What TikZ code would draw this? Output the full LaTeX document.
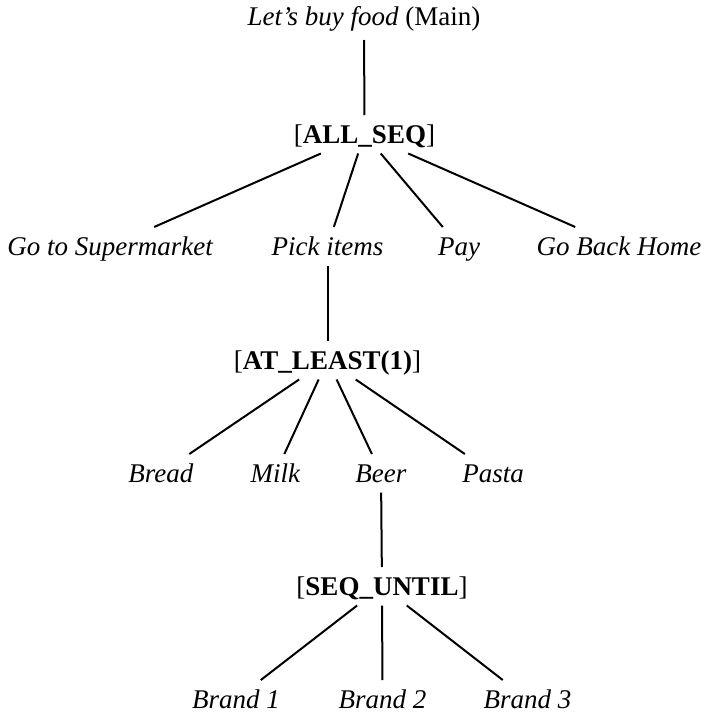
\documentclass[tikz,border=0pt]{standalone}
\usepackage{fontspec}
\setmainfont{Liberation Serif}
\begin{document}
\begin{tikzpicture}[x=1pt,y=-1pt,
  lbl/.style={inner sep=0pt, outer sep=0pt, anchor=base, text height=28pt, text depth=10.5pt,
    font=\fontsize{27}{32}\selectfont},
  rootlbl/.style={lbl, text depth=14.5pt},
  edge/.style={line width=2pt, black}]
\useasboundingbox (0,0) rectangle (705,715);
% level 0
\node[rootlbl] (root) at (364,25.5) {\textit{Let's buy food} (Main)};
% level 1
\node[lbl] (allseq) at (364.5,143) {[\textbf{ALL\_SEQ}]};
% level 2
\node[lbl] (gts) at (110.5,255) {\textit{Go to Supermarket}};
\node[lbl] (pick) at (327.5,255) {\textit{Pick items}};
\node[lbl] (pay) at (459,255) {\textit{Pay}};
\node[lbl] (gbh) at (619,255) {\textit{Go Back Home}};
% level 3
\node[lbl] (atleast) at (327.5,369) {[\textbf{AT\_LEAST(1)}]};
% level 4
\node[lbl] (bread) at (161,482) {\textit{Bread}};
\node[lbl] (milk) at (275.5,482) {\textit{Milk}};
\node[lbl] (beer) at (381,482) {\textit{Beer}};
\node[lbl] (pasta) at (493,482) {\textit{Pasta}};
% level 5
\node[lbl] (sequntil) at (382,595) {[\textbf{SEQ\_UNTIL}]};
% level 6
\node[lbl] (b1) at (236,708) {\textit{Brand 1}};
\node[lbl] (b2) at (382.5,708) {\textit{Brand 2}};
\node[lbl] (b3) at (527.5,708) {\textit{Brand 3}};
% edges
\draw[edge] (root) -- (allseq);
\draw[edge] (allseq) -- (gts);
\draw[edge] (allseq) -- (pick);
\draw[edge] (allseq) -- (pay);
\draw[edge] (allseq) -- (gbh);
\draw[edge] (pick) -- (atleast);
\draw[edge] (atleast) -- (bread);
\draw[edge] (atleast) -- (milk);
\draw[edge] (atleast) -- (beer);
\draw[edge] (atleast) -- (pasta);
\draw[edge] (beer) -- (sequntil);
\draw[edge] (sequntil) -- (b1);
\draw[edge] (sequntil) -- (b2);
\draw[edge] (sequntil) -- (b3);
\end{tikzpicture}
\end{document}
